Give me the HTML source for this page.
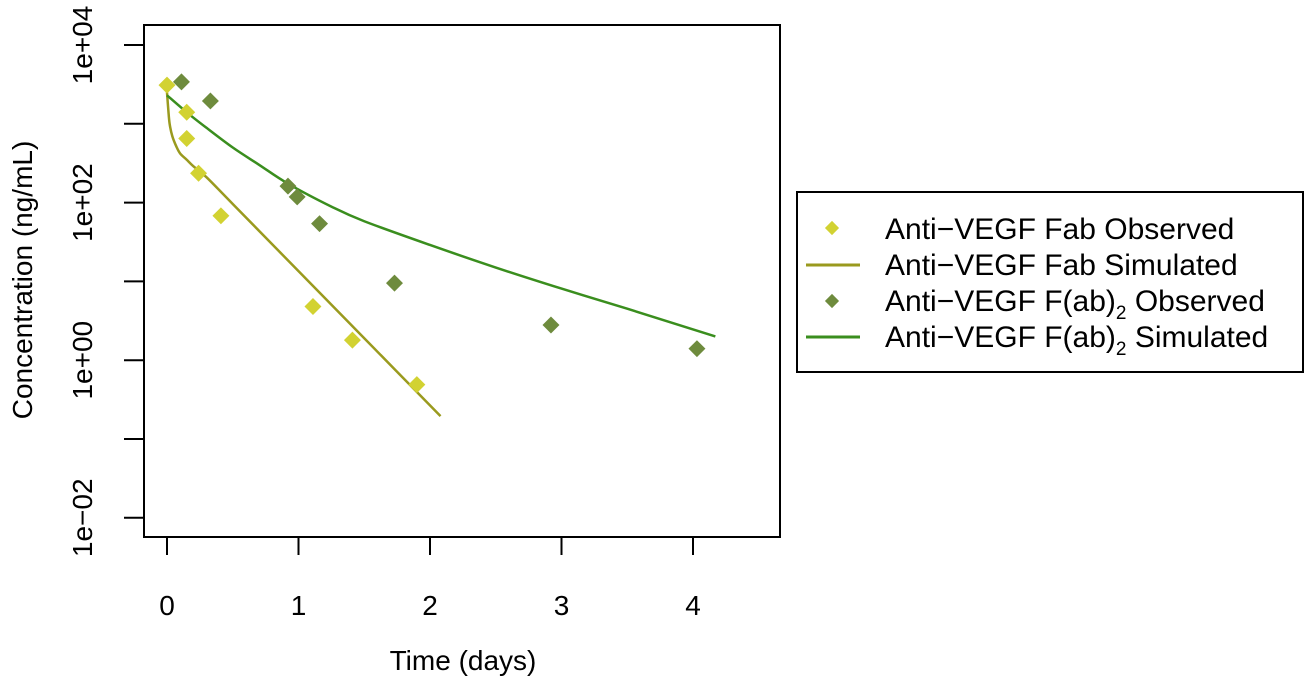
<!DOCTYPE html>
<html><head><meta charset="utf-8"><style>
body{margin:0;background:#fff;}
svg text{font-family:"Liberation Sans",Arial,sans-serif;fill:#000;}
</style></head><body>
<svg id="chart" width="1306" height="680" xmlns="http://www.w3.org/2000/svg">
<rect x="144" y="25" width="636" height="512" fill="none" stroke="#000" stroke-width="2"/>
<g id="axes"></g>
<g id="series"></g>
<text x="463" y="670" font-size="28" text-anchor="middle">Time (days)</text>
<text transform="translate(32,280) rotate(-90)" font-size="28" text-anchor="middle">Concentration (ng/mL)</text>
<g>
<rect x="797" y="192" width="506" height="180" fill="#fff" stroke="#000" stroke-width="2"/>
<rect x="827" y="223" width="10" height="10" fill="#d2d232" transform="rotate(45 832 228)"/>
<line x1="806" y1="265" x2="860" y2="265" stroke="#9a9a1e" stroke-width="3"/>
<rect x="827" y="296" width="10" height="10" fill="#6e8b3d" transform="rotate(45 832 301)"/>
<line x1="806" y1="337" x2="860" y2="337" stroke="#3a8e1e" stroke-width="3"/>
<text x="885" y="239" font-size="30">Anti−VEGF Fab Observed</text>
<text x="885" y="275" font-size="30">Anti−VEGF Fab Simulated</text>
<text x="885" y="311" font-size="30">Anti−VEGF F(ab)<tspan font-size="19" dy="8">2</tspan><tspan dy="-8">  Observed</tspan></text>
<text x="885" y="347" font-size="30">Anti−VEGF F(ab)<tspan font-size="19" dy="8">2</tspan><tspan dy="-8">  Simulated</tspan></text>
</g>
</svg>
<script>
const xTicks = [0,1,2,3,4];
const yTicks = [4,3,2,1,0,-1,-2];
const yTickLabels = {"4":"1e+04","2":"1e+02","0":"1e+00","-2":"1e−02"};
const fabObsT = [0,0.15,0.15,0.24,0.41,1.11,1.41,1.90];
const fabObsC = [3100,1400,650,236,68,4.8,1.8,0.49];
const fab2ObsT = [0.11,0.33,0.92,0.99,1.16,1.73,2.92,4.03];
const fab2ObsC = [3400,1950,162,118,54,9.5,2.8,1.4];
const fabSimT = [0,0.01,0.02,0.04,0.07,0.1,0.15,0.2,0.3,0.5,1,1.5,2.08];
const fabSimC = [2500,1500,1000,700,520,420,350,290,210,96,13.5,1.9,0.195];
const fab2SimT = [0,0.15,0.3,0.5,0.7,0.92,1.25,1.5,2,2.5,3,3.5,4.17];
const fab2SimC = [2300,1400,890,500,302,174,89,58,29,15,8.1,4.5,2.0];

const NS="http://www.w3.org/2000/svg";
const xs=t=>167+t*131.5;
const ys=c=>45+(4-Math.log10(c))*78.8;
const ysL=l=>45+(4-l)*78.8;
const axes=document.getElementById('axes'), ser=document.getElementById('series');
function mk(tag,attrs,parent){const e=document.createElementNS(NS,tag);for(const k in attrs)e.setAttribute(k,attrs[k]);parent.appendChild(e);return e;}
xTicks.forEach(t=>{
  const l=mk('line',{x1:xs(t),x2:xs(t),y1:537,y2:555,stroke:'#000','stroke-width':2},axes);
  
  
  const tx=mk('text',{x:xs(t),y:615,'font-size':28,'text-anchor':'middle'},axes);tx.textContent=t;
  
  
});
yTicks.forEach(v=>{
  const y=ysL(v);
  const l=mk('line',{x1:124,x2:144,y1:y,y2:y,stroke:'#000','stroke-width':2},axes);
  
  
  if(yTickLabels[v]!==undefined){
    const tx=mk('text',{transform:`translate(92,${y}) rotate(-90)`,'font-size':28,'text-anchor':'middle'},axes);tx.textContent=yTickLabels[v];
    
    
  }
});
function smoothPath(P){
  let d='M'+P[0][0]+','+P[0][1];
  for(let i=0;i<P.length-1;i++){
    const p0=P[Math.max(0,i-1)],p1=P[i],p2=P[i+1],p3=P[Math.min(P.length-1,i+2)];
    const c1=[p1[0]+(p2[0]-p0[0])/6,p1[1]+(p2[1]-p0[1])/6];
    const c2=[p2[0]-(p3[0]-p1[0])/6,p2[1]-(p3[1]-p1[1])/6];
    d+=` C${c1[0]},${c1[1]} ${c2[0]},${c2[1]} ${p2[0]},${p2[1]}`;
  }
  return d;
}
function line(T,C,color,name){
  const P=T.map((t,i)=>[xs(t),ys(C[i])]);
  const p=mk('path',{d:smoothPath(P),fill:'none',stroke:color,'stroke-width':2.5},ser);
  
  
}
function pts(T,C,color,name){
  T.forEach((t,i)=>{
    const x=xs(t),y=ys(C[i]);
    const r=mk('rect',{x:x-6,y:y-6,width:12,height:12,fill:color,transform:`rotate(45 ${x} ${y})`},ser);
    
    
  });
}
line(fabSimT,fabSimC,'#9a9a1e','fab-simulated-line');
line(fab2SimT,fab2SimC,'#3a8e1e','fab2-simulated-line');
pts(fab2ObsT,fab2ObsC,'#6e8b3d','fab2-observed-point');
pts(fabObsT,fabObsC,'#d2d232','fab-observed-point');
</script>
</body></html>
